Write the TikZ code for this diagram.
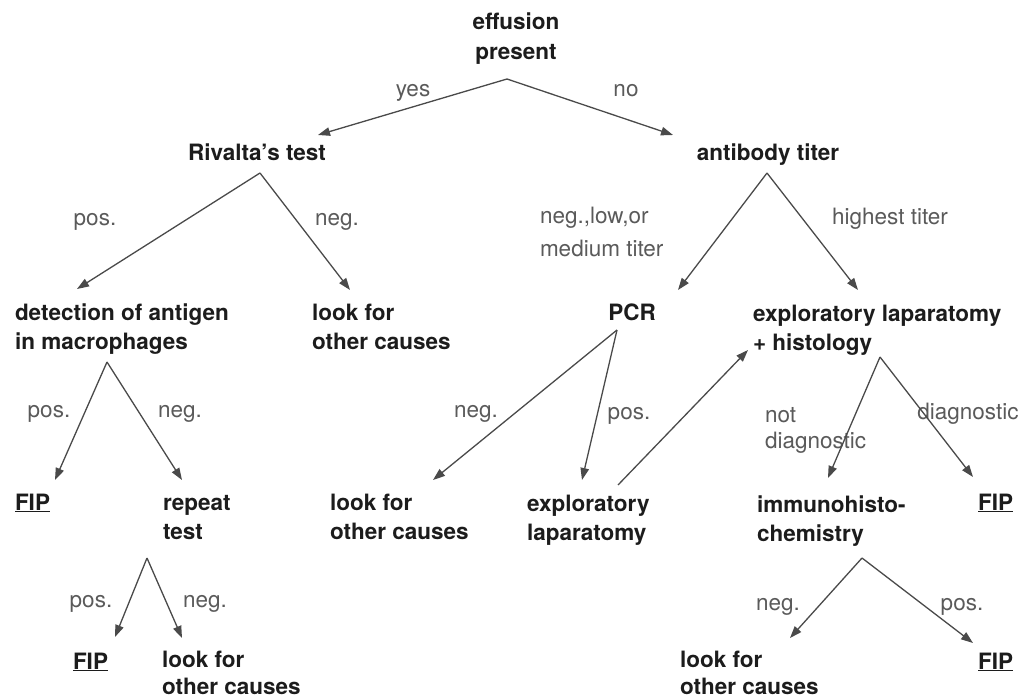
\documentclass[tikz,border=0pt]{standalone}
\usepackage{fontspec}
\setmainfont{TeX Gyre Heros}
\usetikzlibrary{arrows.meta}
\definecolor{nodetext}{HTML}{1C1C1C}
\definecolor{labeltext}{HTML}{5A5A5A}
\definecolor{linecol}{HTML}{4A4A4A}
\begin{document}
\begin{tikzpicture}[x=1bp,y=-1bp,
  every node/.style={inner sep=0pt,outer sep=0pt,font=\fontsize{22.5bp}{29bp}\selectfont},
  box/.style={text=nodetext,font=\fontsize{22.5bp}{29bp}\selectfont\bfseries,align=left,anchor=base west},
  boxc/.style={text=nodetext,font=\fontsize{22.5bp}{30bp}\selectfont\bfseries,align=center,anchor=base},
  lbl/.style={text=labeltext,font=\fontsize{22.5bp}{33bp}\selectfont,align=left,anchor=base west},
  lblc/.style={text=labeltext,font=\fontsize{22.5bp}{33bp}\selectfont,anchor=base},
  conn/.style={draw=linecol,line width=1.3bp,-{Triangle[length=12bp,width=8.5bp]}}]
\useasboundingbox (0,0) rectangle (1027,700);
\fill[white] (0,0) rectangle (1027,700);

% nodes (multi-line nodes are placed at the baseline of their last line)
\node[boxc] (eff) at (516,60) {effusion\\present};
\node[boxc] (riv) at (257,161) {Rivalta's test};
\node[boxc] (ab) at (768,161) {antibody titer};
\node[box] (det) at (15,349) {detection of antigen\\in macrophages};
\node[box] (lk1) at (312,349) {look for\\other causes};
\node[boxc] (pcr) at (632,320) {PCR};
\node[box] (exh) at (753,350) {exploratory laparatomy\\+ histology};
\node[box] (fip1) at (15,510) {\underline{FIP}};
\node[box] (rep) at (163,539) {repeat\\test};
\node[box] (fip2) at (73,669) {\underline{FIP}};
\node[box,font=\fontsize{22.5bp}{27bp}\selectfont\bfseries] (lk2) at (162,694) {look for\\other causes};
\node[box] (lk3) at (330,539) {look for\\other causes};
\node[box] (exl) at (527,540) {exploratory\\laparatomy};
\node[box] (imm) at (757,541) {immunohisto-\\chemistry};
\node[box] (fip3) at (978,510) {\underline{FIP}};
\node[box,font=\fontsize{22.5bp}{27bp}\selectfont\bfseries] (lk4) at (680,694) {look for\\other causes};
\node[box] (fip4) at (978,669) {\underline{FIP}};

% labels
\node[lblc] (lyes) at (413,97) {yes};
\node[lblc] (lno) at (626,97) {no};
\node[lblc] (l1) at (95,225) {pos.};
\node[lblc] (l2) at (337,225) {neg.};
\node[lbl] (l3) at (540,256) {neg.,low,or\\medium titer};
\node[lblc] (l4) at (890,224) {highest titer};
\node[lblc] (l5) at (49,417) {pos.};
\node[lblc] (l6) at (180,417) {neg.};
\node[lblc] (l7) at (91,607) {pos.};
\node[lblc] (l8) at (205,607) {neg.};
\node[lblc] (l9) at (476,417) {neg.};
\node[lblc] (l10) at (629,419) {pos.};
\node[lbl,font=\fontsize{22.5bp}{26bp}\selectfont] (l11) at (765,448) {not\\diagnostic};
\node[lblc] (l12) at (968,419) {diagnostic};
\node[lblc] (l13) at (778,610) {neg.};
\node[lblc] (l14) at (962,610) {pos.};

% connector points
\coordinate (aEff) at (507,79);
\coordinate (tRiv) at (318,135);
\coordinate (tAb) at (673,135);
\coordinate (aRiv) at (260,173);
\coordinate (tDet) at (77,289);
\coordinate (tLk1) at (350,290);
\coordinate (aAb) at (767,173);
\coordinate (tPcr) at (678,290);
\coordinate (tExh) at (858,290);
\coordinate (aDet) at (107,362);
\coordinate (tFip1) at (55,480);
\coordinate (tRep) at (182,480);
\coordinate (aRep) at (147,558);
\coordinate (tFip2) at (115,637);
\coordinate (tLk2) at (182,638);
\coordinate (aPcr) at (617,330);
\coordinate (tLk3) at (433,480);
\coordinate (tExl) at (582,480);
\coordinate (sExl) at (618,485);
\coordinate (tExh2) at (748,350);
\coordinate (aExh) at (880,357);
\coordinate (tImm) at (828,478);
\coordinate (tFip3) at (973,477);
\coordinate (aImm) at (862,558);
\coordinate (tLk4) at (790,638);
\coordinate (tFip4) at (973,643);

% connectors
\draw[conn] (aEff) -- (tRiv);
\draw[conn] (aEff) -- (tAb);
\draw[conn] (aRiv) -- (tDet);
\draw[conn] (aRiv) -- (tLk1);
\draw[conn] (aAb) -- (tPcr);
\draw[conn] (aAb) -- (tExh);
\draw[conn] (aDet) -- (tFip1);
\draw[conn] (aDet) -- (tRep);
\draw[conn] (aRep) -- (tFip2);
\draw[conn] (aRep) -- (tLk2);
\draw[conn] (aPcr) -- (tLk3);
\draw[conn] (aPcr) -- (tExl);
\draw[conn] (sExl) -- (tExh2);
\draw[conn] (aExh) -- (tImm);
\draw[conn] (aExh) -- (tFip3);
\draw[conn] (aImm) -- (tLk4);
\draw[conn] (aImm) -- (tFip4);
\end{tikzpicture}
\end{document}
